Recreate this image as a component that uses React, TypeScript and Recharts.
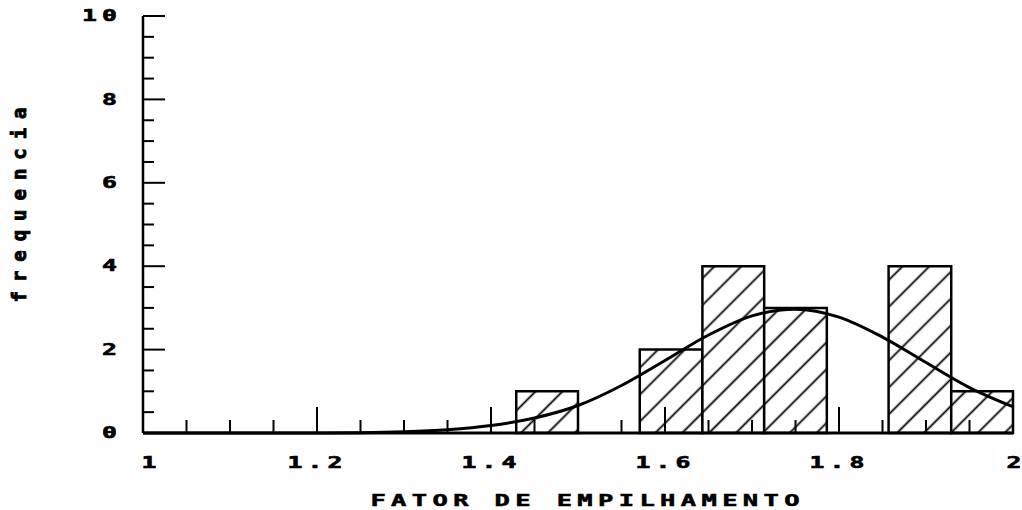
import { ComposedChart, Line, XAxis, YAxis, ReferenceArea } from "recharts";

// fitted curve at 0.05 steps
const curveX = [1.0, 1.05, 1.1, 1.15, 1.2, 1.25, 1.3, 1.35, 1.4, 1.45, 1.5, 1.55, 1.6, 1.65, 1.7, 1.75, 1.8, 1.85, 1.9, 1.95, 2.0];
const curveY = [0, 0, 0, 0, 0.002, 0.008, 0.03, 0.08, 0.18, 0.36, 0.66, 1.14, 1.74, 2.35, 2.81, 2.97, 2.78, 2.3, 1.69, 1.09, 0.63];

// histogram bins
const binLeft = [1.429, 1.571, 1.643, 1.714, 1.857, 1.929];
const binRight = [1.5, 1.643, 1.714, 1.786, 1.929, 2.0];
const binCount = [1, 2, 4, 3, 4, 1];

const xTicks = [1, 1.05, 1.1, 1.15, 1.2, 1.25, 1.3, 1.35, 1.4, 1.45, 1.5, 1.55, 1.6, 1.65, 1.7, 1.75, 1.8, 1.85, 1.9, 1.95, 2];
const xMajor = [1, 1.2, 1.4, 1.6, 1.8, 2];
const xLabels = ["1", "1.2", "1.4", "1.6", "1.8", "2"];
const yTicks = [0, 0.5, 1, 1.5, 2, 2.5, 3, 3.5, 4, 4.5, 5, 5.5, 6, 6.5, 7, 7.5, 8, 8.5, 9, 9.5, 10];
const yMajor = [0, 2, 4, 6, 8, 10];
const yLabels = ["0", "2", "4", "6", "8", "10"];

const data = curveX.map((x, i) => ({ x, y: curveY[i] }));

// wide plotter-style lettering: mono font stretched sideways, fixed cell width
function PlotText({ x, y, text, size = 14, sx = 1.5, cell = 20, anchor = "middle", rotate = 0, bold = 0.6 }: any) {
  const ls = text.length > 1 ? cell / sx - size * 0.602 : 0;
  const dx = anchor === "middle" ? ls / 2 : anchor === "end" ? ls : 0;
  return (
    <g transform={`translate(${x},${y}) rotate(${rotate}) scale(${sx},1)`}>
      <text
        x={0}
        y={0}
        dx={dx}
        textAnchor={anchor}
        dominantBaseline="central"
        fontFamily="DejaVu Sans Mono"
        fontWeight="bold"
        fontSize={size}
        letterSpacing={ls}
        fill="#000"
        stroke="#000"
        strokeWidth={bold}
      >
        {text}
      </text>
    </g>
  );
}

function near(list: number[], v: number) {
  return list.findIndex((m) => Math.abs(m - v) < 1e-6);
}

function XTick(props: any) {
  const { x, y, payload } = props;
  const k = near(xMajor, payload.value);
  const shift = k === 0 ? 6 : k === xLabels.length - 1 ? 1 : -2;
  return (
    <g>
      <line x1={x} x2={x} y1={y} y2={y - (k >= 0 ? 26 : 13)} stroke="#000" strokeWidth={2} />
      {k >= 0 ? <PlotText x={x + shift} y={y + 30} text={xLabels[k]} size={15} sx={1.65} /> : null}
    </g>
  );
}

function YTick(props: any) {
  const { x, y, payload } = props;
  const k = near(yMajor, payload.value);
  return (
    <g>
      <line x1={x} x2={x + (k >= 0 ? 22 : 11)} y1={y} y2={y} stroke="#000" strokeWidth={2} />
      {k >= 0 ? <PlotText x={x - 26} y={y} text={yLabels[k]} anchor="end" size={15} sx={1.65} /> : null}
    </g>
  );
}

export default function App() {
  return (
    <div style={{ position: "absolute", left: 0, top: 0, width: 1022, height: 510, background: "#fff", overflow: "hidden" }}>
      <svg width={0} height={0} style={{ position: "absolute" }}>
        <defs>
          <pattern id="hatch" patternUnits="userSpaceOnUse" width={19} height={19} patternTransform="rotate(45)">
            <rect width={19} height={19} fill="#fff" />
            <line x1={9.5} y1={0} x2={9.5} y2={19} stroke="#000" strokeWidth={1.8} />
          </pattern>
        </defs>
      </svg>
      <ComposedChart width={1022} height={510} data={data} margin={{ top: 16, right: 9, bottom: 0, left: 0 }}>
        <XAxis
          dataKey="x"
          type="number"
          domain={[1, 2]}
          ticks={xTicks}
          interval={0}
          height={77}
          tickSize={0}
          tickMargin={0}
          tickLine={false}
          axisLine={{ stroke: "#000", strokeWidth: 3 }}
          tick={(p: any) => <XTick {...p} />}
        />
        <YAxis
          type="number"
          domain={[0, 10]}
          ticks={yTicks}
          interval={0}
          width={143}
          tickSize={0}
          tickMargin={0}
          tickLine={false}
          axisLine={{ stroke: "#000", strokeWidth: 2.5 }}
          tick={(p: any) => <YTick {...p} />}
        />
        {binCount.map((c, i) => (
          <ReferenceArea key={i} x1={binLeft[i]} x2={binRight[i]} y1={0} y2={c} fill="url(#hatch)" fillOpacity={1} stroke="#000" strokeWidth={2.5} ifOverflow="visible" />
        ))}
        <Line dataKey="y" type="monotone" stroke="#000" strokeWidth={3} dot={false} activeDot={false} isAnimationActive={false} />
      </ComposedChart>
      <svg width={1022} height={510} style={{ position: "absolute", left: 0, top: 0, pointerEvents: "none" }}>
        <PlotText x={19} y={205} text="frequencia" size={19} sx={1.0} cell={20.4} rotate={-90} bold={0.9} />
        <PlotText x={585} y={501} text="FATOR DE EMPILHAMENTO" size={15} sx={1.7} cell={20.7} bold={0.5} />
      </svg>
    </div>
  );
}
